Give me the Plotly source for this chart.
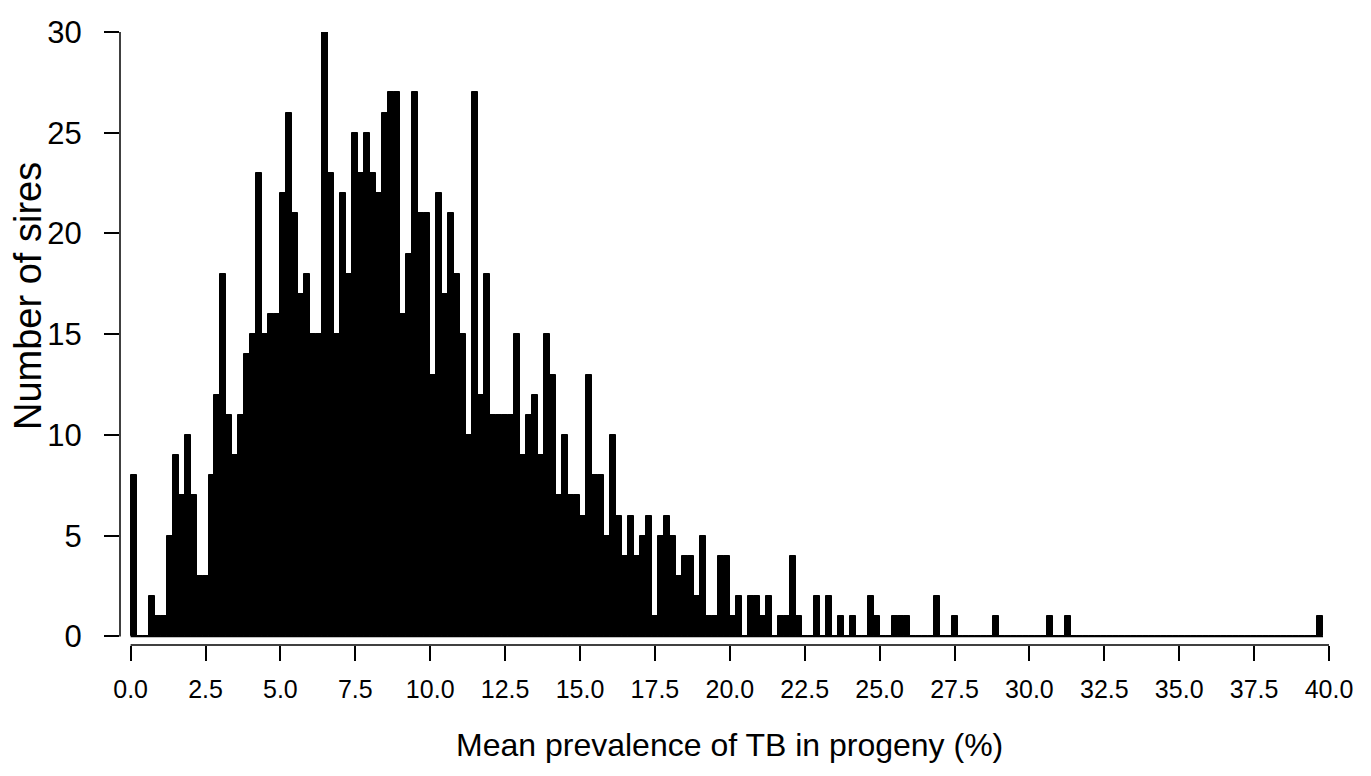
import plotly.graph_objects as go

# Histogram data: bins of width 0.2 starting at 0.0
bin_start = 0.0
bin_width = 0.2
counts = [
    8, 0, 0, 2, 1, 1, 5, 9, 7, 10,        # 0.0 - 2.0
    7, 3, 3, 8, 12, 18, 11, 9, 11, 14,    # 2.0 - 4.0
    15, 23, 15, 16, 16, 22, 26, 21, 17, 18,   # 4.0 - 6.0
    15, 15, 30, 23, 15, 22, 18, 25, 23, 25,   # 6.0 - 8.0
    23, 22, 26, 27, 27, 16, 19, 27, 21, 21,   # 8.0 - 10.0
    13, 22, 17, 21, 18, 15, 10, 27, 12, 18,   # 10.0 - 12.0
    11, 11, 11, 11, 15, 9, 11, 12, 9, 15,     # 12.0 - 14.0
    13, 7, 10, 7, 7, 6, 13, 8, 8, 5,          # 14.0 - 16.0
    10, 6, 4, 6, 4, 5, 6, 1, 5, 6,            # 16.0 - 18.0
    5, 3, 4, 4, 2, 5, 1, 1, 4, 4,             # 18.0 - 20.0
    1, 2, 0, 2, 2, 1, 2, 0, 1, 1,             # 20.0 - 22.0
    4, 1, 0, 0, 2, 0, 2, 0, 1, 0,             # 22.0 - 24.0
    1, 0, 0, 2, 1, 0, 0, 1, 1, 1,             # 24.0 - 26.0
    0, 0, 0, 0, 2, 0, 0, 1, 0, 0,             # 26.0 - 28.0
    0, 0, 0, 0, 1, 0, 0, 0, 0, 0,             # 28.0 - 30.0
    0, 0, 0, 1, 0, 0, 1, 0, 0, 0,             # 30.0 - 32.0
    0, 0, 0, 0, 0, 0, 0, 0, 0, 0,             # 32.0 - 34.0
    0, 0, 0, 0, 0, 0, 0, 0, 0, 0,             # 34.0 - 36.0
    0, 0, 0, 0, 0, 0, 0, 0, 0, 0,             # 36.0 - 38.0
    0, 0, 0, 0, 0, 0, 0, 0, 1,                # 38.0 - 39.8
]

x_ticks = [0.0, 2.5, 5.0, 7.5, 10.0, 12.5, 15.0, 17.5, 20.0, 22.5, 25.0,
           27.5, 30.0, 32.5, 35.0, 37.5, 40.0]
x_tick_labels = [f"{v:.1f}" for v in x_ticks]
y_ticks = [0, 5, 10, 15, 20, 25, 30]
y_tick_labels = [str(v) for v in y_ticks]

x_title = "Mean prevalence of TB in progeny (%)"
y_title = "Number of sires"

centers = [bin_start + bin_width * (i + 0.5) for i in range(len(counts))]
first_edge = bin_start
last_edge = bin_start + bin_width * len(counts)

FONT = "Liberation Sans, Arial, sans-serif"

fig = go.Figure()
# baseline drawn by zero-height bins (as in R's hist)
fig.add_trace(go.Scatter(
    x=[first_edge, last_edge], y=[0, 0], mode="lines",
    line=dict(color="black", width=1.6), hoverinfo="skip", showlegend=False,
))
fig.add_trace(go.Bar(
    x=centers, y=counts, width=bin_width,
    marker=dict(color="black", line=dict(color="black", width=1)),
    showlegend=False,
))

W, H = 1371, 776
L, R, T, B = 120, 42, 32, 131
plot_w = W - L - R
plot_h = H - T - B
px_per_x = (1329 - 130.6) / 40.0
px_per_y = (636.4 - 31.6) / 30.0
x_min = -(130.6 - L) / px_per_x
x_max = 40.0
y_min = -((H - B) - 636.4) / px_per_y
y_max = 30.0

fig.update_layout(
    width=W, height=H,
    margin=dict(l=L, r=R, t=T, b=B, pad=0),
    paper_bgcolor="white", plot_bgcolor="white",
    bargap=0,
    font=dict(family=FONT, color="black"),
    xaxis=dict(
        range=[x_min, x_max], showgrid=False, zeroline=False, showline=False,
        tickmode="array", tickvals=x_ticks, ticktext=x_tick_labels,
        ticks="outside", ticklen=15, tickwidth=1.5, tickcolor="black",
        tickfont=dict(size=25, family=FONT, color="black"),
        ticklabelstandoff=7,
    ),
    yaxis=dict(
        range=[y_min, y_max], showgrid=False, zeroline=False, showline=False,
        tickmode="array", tickvals=y_ticks, ticktext=y_tick_labels,
        ticks="outside", ticklen=15, tickwidth=1.5, tickcolor="black",
        tickfont=dict(size=31, family=FONT, color="black"),
        ticklabelstandoff=16,
    ),
    shapes=[
        dict(type="line", xref="paper", yref="y", x0=0, x1=0, y0=0, y1=30,
             line=dict(color="black", width=1.5)),
        dict(type="line", xref="x", yref="paper", x0=0, x1=40, y0=0, y1=0,
             line=dict(color="black", width=1.5)),
    ],
    annotations=[
        dict(text=x_title, xref="paper", yref="paper",
             x=(729.8 - L) / plot_w, y=((H - B) - 745) / plot_h,
             xanchor="center", yanchor="middle", showarrow=False,
             font=dict(size=32, family=FONT, color="black")),
        dict(text=y_title, xref="paper", yref="paper",
             x=(28 - L) / plot_w, y=((H - B) - 296) / plot_h,
             xanchor="center", yanchor="middle", textangle=-90, showarrow=False,
             font=dict(size=38, family=FONT, color="black")),
    ],
)

fig.write_html("out.html")
